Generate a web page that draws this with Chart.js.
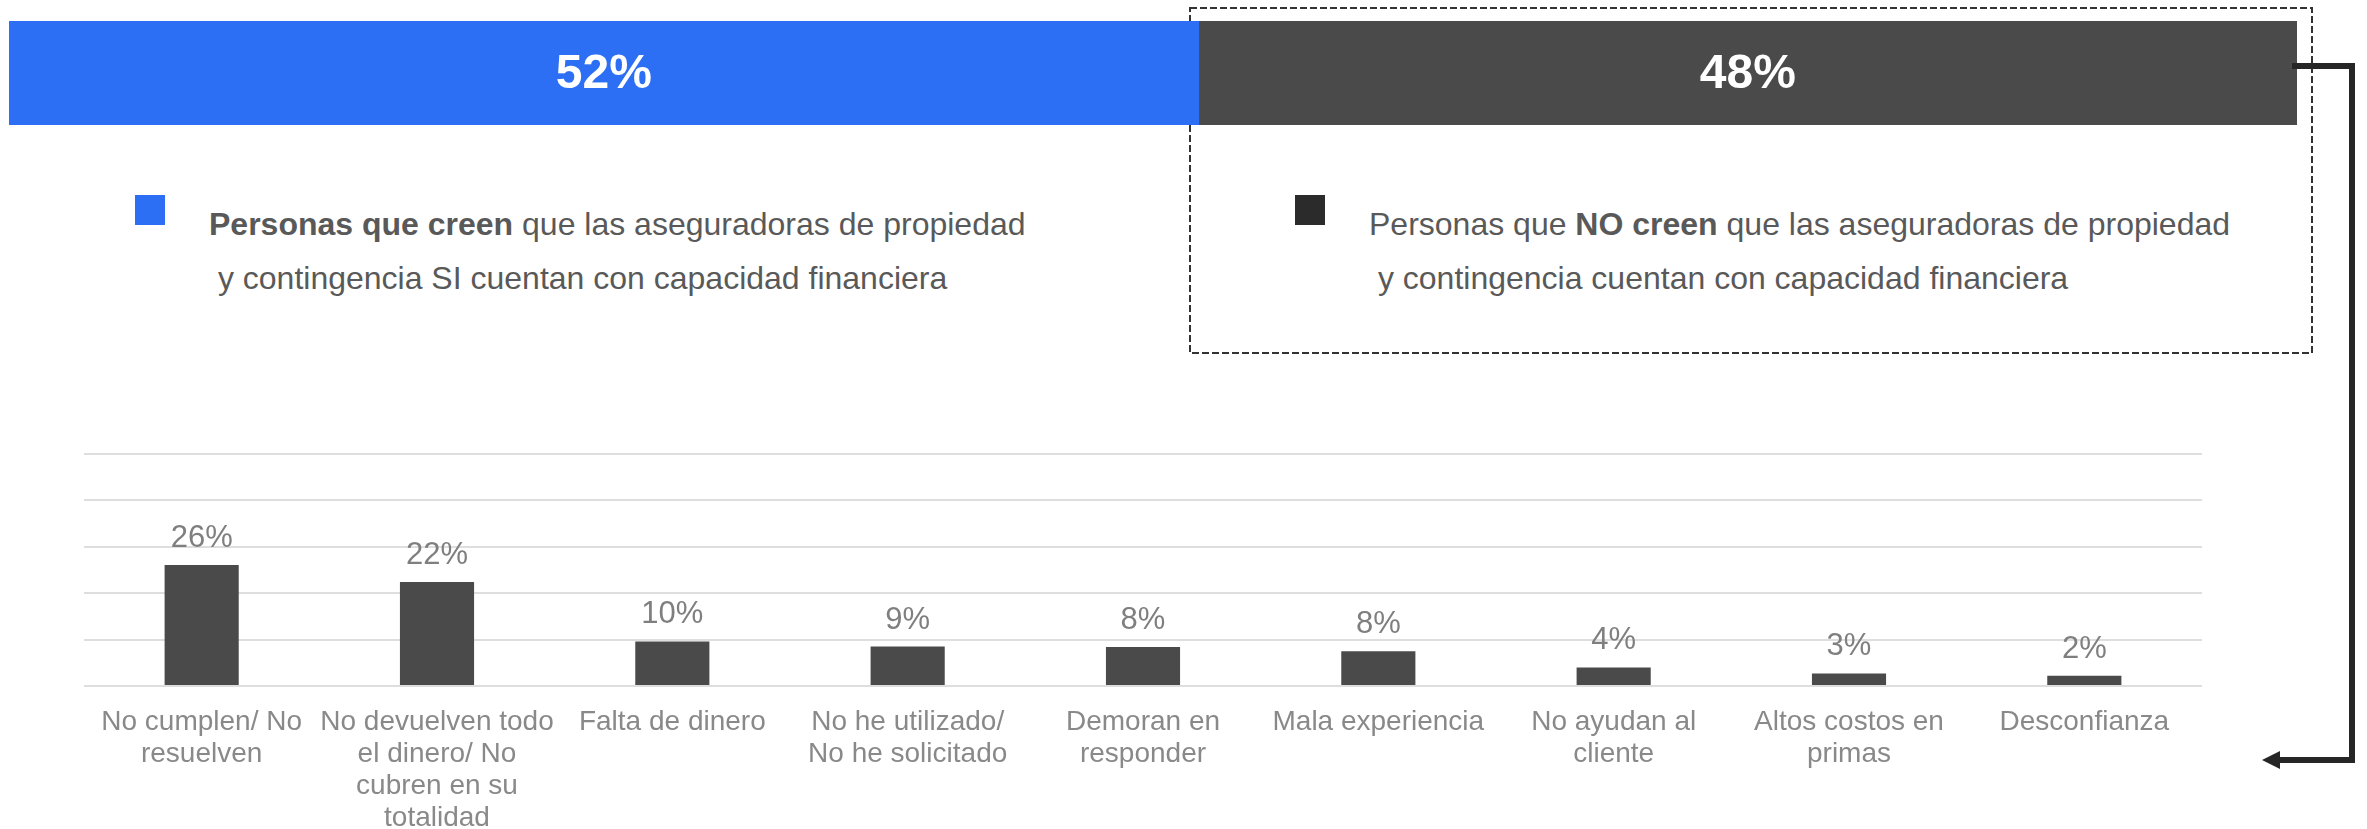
<!DOCTYPE html>
<html>
<head>
<meta charset="utf-8">
<script src="https://cdn.jsdelivr.net/npm/chart.js@4.4.0/dist/chart.umd.min.js"></script>
<style>
html, body { margin: 0; padding: 0; background: #fff; overflow: hidden; width: 2367px; height: 829px; }
#wrap { position: relative; width: 2367px; height: 829px; font-family: "Liberation Sans", Arial, sans-serif; }
canvas { position: absolute; }
#topChart { left: 9px; top: 21px; z-index: 2; }
#barChart { left: 0; top: 420px; z-index: 1; }
.sq { position: absolute; width: 30px; height: 30px; top: 195px; }
.leg { position: absolute; top: 197px; font-size: 32px; line-height: 54px; color: #595959; white-space: pre; z-index: 1; }
.leg b { font-weight: bold; }
svg { position: absolute; left: 0; top: 0; }
</style>
</head>
<body>
<div id="wrap">
  <svg id="caja" width="2367" height="829" style="z-index:0">
    <rect x="1190" y="8" width="1122" height="345" fill="none" stroke="#333" stroke-width="2" stroke-dasharray="7 3"/>
  </svg>
  <canvas id="topChart" width="2288" height="104"></canvas>
  <div class="sq" style="left:135px;background:#2c6ff5"></div>
  <div class="leg" style="left:209px"><b>Personas que creen</b> que las aseguradoras de propiedad
 y contingencia SI cuentan con capacidad financiera</div>
  <div class="sq" style="left:1295px;background:#2b2b2b"></div>
  <div class="leg" style="left:1369px">Personas que <b>NO creen</b> que las aseguradoras de propiedad
 y contingencia cuentan con capacidad financiera</div>
  <canvas id="barChart" width="2367" height="434"></canvas>
  <svg id="flecha" width="2367" height="829" style="z-index:3">
    <polyline points="2292,66 2352,66 2352,760 2276,760" fill="none" stroke="#262626" stroke-width="6"/>
    <polygon points="2262,760 2280,751 2280,769" fill="#262626"/>
  </svg>
</div>

<script>
//DATOS
const partes = [52, 48];
const coloresPartes = ["#2c6ff5", "#4a4a4a"];

const categorias = [
  ["No cumplen/ No", "resuelven"],
  ["No devuelven todo", "el dinero/ No", "cubren en su", "totalidad"],
  "Falta de dinero",
  ["No he utilizado/", "No he solicitado"],
  ["Demoran en", "responder"],
  "Mala experiencia",
  ["No ayudan al", "cliente"],
  ["Altos costos en", "primas"],
  "Desconfianza",
];
const valores = [26.1, 22.4, 9.6, 8.5, 8.4, 7.5, 4.0, 2.7, 2.2];

const fuente = '"Liberation Sans", Arial, sans-serif';

//PLUGIN ETIQUETAS
const etiquetas = {
  id: "etiquetas",
  afterDatasetsDraw(chart, args, opts) {
    const ctx = chart.ctx;
    ctx.save();
    ctx.font = opts.font;
    ctx.fillStyle = opts.color;
    ctx.textAlign = "center";
    chart.data.datasets.forEach((ds, i) => {
      chart.getDatasetMeta(i).data.forEach((bar, j) => {
        const txt = Math.round(ds.data[j]) + "%";
        if (opts.dentro) {
          ctx.textBaseline = "middle";
          ctx.fillText(txt, (bar.x + bar.base) / 2, bar.y + opts.dy);
        } else {
          ctx.textBaseline = "alphabetic";
          ctx.fillText(txt, bar.x, bar.y - opts.dy);
        }
      });
    });
    ctx.restore();
  },
};

//BARRA SUPERIOR
new Chart(document.getElementById("topChart"), {
  type: "bar",
  data: {
    labels: [""],
    datasets: partes.map((v, i) => ({
      data: [v],
      backgroundColor: coloresPartes[i],
      barPercentage: 1,
      categoryPercentage: 1,
    })),
  },
  plugins: [etiquetas],
  options: {
    indexAxis: "y",
    responsive: false,
    animation: false,
    layout: { padding: 0 },
    scales: {
      x: { stacked: true, min: 0, max: 100, display: false },
      y: { stacked: true, display: false },
    },
    plugins: {
      legend: { display: false },
      tooltip: { enabled: false },
      etiquetas: { font: "bold 48px " + fuente, color: "#ffffff", dentro: true, dy: 2 },
    },
  },
});

//GRAFICO DE BARRAS
new Chart(document.getElementById("barChart"), {
  type: "bar",
  data: {
    labels: categorias,
    datasets: [
      {
        data: valores,
        backgroundColor: "#4a4a4a",
        barPercentage: 0.315,
        categoryPercentage: 1,
      },
    ],
  },
  plugins: [etiquetas],
  options: {
    responsive: false,
    animation: false,
    layout: { padding: { left: 84, right: 165, top: 34, bottom: 0 } },
    scales: {
      x: {
        grid: { display: false, drawTicks: false },
        border: { display: false },
        ticks: {
          color: "#898989",
          font: { family: fuente, size: 28, lineHeight: 32 / 28 },
          padding: 20,
          maxRotation: 0,
          autoSkip: false,
        },
      },
      y: {
        min: 0,
        max: 50,
        ticks: { display: false, stepSize: 10 },
        grid: { color: "#dedede", lineWidth: 2, drawTicks: false },
        border: { display: false },
      },
    },
    plugins: {
      legend: { display: false },
      tooltip: { enabled: false },
      etiquetas: { font: "31px " + fuente, color: "#7f7f7f", dentro: false, dy: 18 },
    },
  },
});
</script>
</body>
</html>
